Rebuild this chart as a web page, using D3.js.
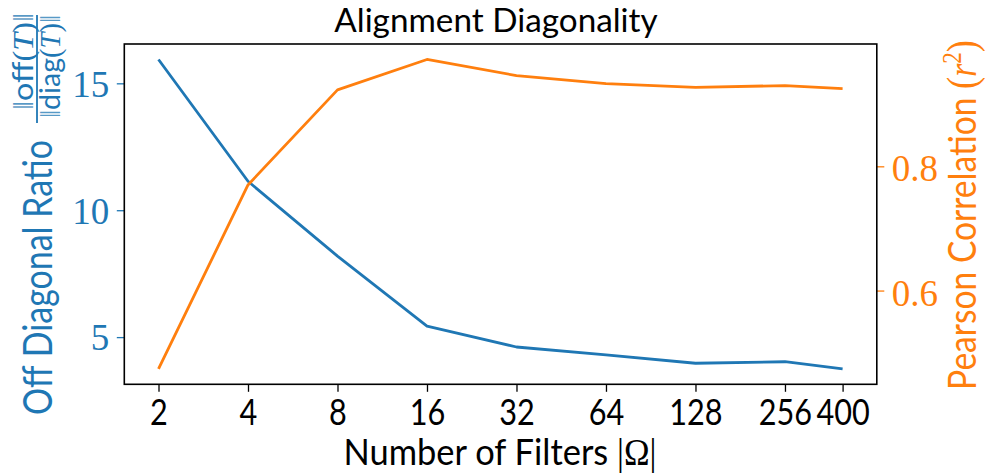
<!DOCTYPE html>
<html>
<head>
<meta charset="utf-8">
<script src="https://cdn.jsdelivr.net/npm/d3@7"></script>
<style>
  html, body { margin: 0; padding: 0; background: #fff; }
  svg { display: block; }
</style>
</head>
<body>
<svg id="chart" width="985" height="476"></svg>
<script>
// ---- data ----
const filters = [2, 4, 8, 16, 32, 64, 128, 256, 400];
const offDiagonalRatio = [15.94, 11.14, 8.19, 5.43, 4.61, 4.30, 3.97, 4.03, 3.75];
const pearsonR2 = [0.474, 0.770, 0.923, 0.972, 0.946, 0.933, 0.927, 0.930, 0.925];
const xTickValues = [2, 4, 8, 16, 32, 64, 128, 256, 400];
const leftTickValues = [5, 10, 15];
const rightTickValues = [0.6, 0.8];

const BLUE = "#1f77b4", ORANGE = "#ff7f0e";
const SANS = "Lato, 'Open Sans', sans-serif";
const SERIF = "'Liberation Serif', 'DejaVu Serif', serif";

const svg = d3.select("#chart");
const plot = { left: 124.3, right: 876.8, top: 44, bottom: 384.3 };

function pad(lo, hi, f) { const r = hi - lo; return [lo - f * r, hi + f * r]; }

// x: log2 scale with 5% margin in log space
const lx = pad(Math.log2(d3.min(filters)), Math.log2(d3.max(filters)), 0.05);
const x = d3.scaleLog().base(2).domain([2 ** lx[0], 2 ** lx[1]]).range([plot.left, plot.right]);
const yL = d3.scaleLinear().domain(pad(d3.min(offDiagonalRatio), d3.max(offDiagonalRatio), 0.05)).range([plot.bottom, plot.top]);
const yR = d3.scaleLinear().domain(pad(d3.min(pearsonR2), d3.max(pearsonR2), 0.05)).range([plot.bottom, plot.top]);

// ---- lines ----
const lineL = d3.line().x((d, i) => x(filters[i])).y(d => yL(d));
const lineR = d3.line().x((d, i) => x(filters[i])).y(d => yR(d));

svg.append("path").datum(offDiagonalRatio).attr("d", lineL)
  .attr("fill", "none").attr("stroke", BLUE).attr("stroke-width", 2.8)
  .attr("stroke-linejoin", "round").attr("stroke-linecap", "butt");
svg.append("path").datum(pearsonR2).attr("d", lineR)
  .attr("fill", "none").attr("stroke", ORANGE).attr("stroke-width", 2.8)
  .attr("stroke-linejoin", "round").attr("stroke-linecap", "butt");

// ---- axes ----
const TICK = 7.5;
const gx = svg.append("g").attr("transform", `translate(0,${plot.bottom})`)
  .call(d3.axisBottom(x).tickValues(xTickValues).tickFormat(d3.format("d")).tickSize(TICK).tickSizeOuter(0).tickPadding(0));
gx.select(".domain").remove();
gx.selectAll(".tick line").attr("stroke", "#000").attr("stroke-width", 1.3);
gx.selectAll(".tick text")
  .attr("font-family", SANS).attr("font-size", 36.5).attr("fill", "#000")
  .attr("dy", null).attr("y", 0)
  .attr("transform", `translate(0,${425 - plot.bottom}) scale(0.84,1)`);

const gl = svg.append("g").attr("transform", `translate(${plot.left},0)`)
  .call(d3.axisLeft(yL).tickValues(leftTickValues).tickFormat(d3.format("d")).tickSize(TICK).tickSizeOuter(0).tickPadding(7.5));
gl.select(".domain").remove();
gl.selectAll(".tick line").attr("stroke", BLUE).attr("stroke-width", 1.3);
gl.selectAll(".tick text")
  .attr("font-family", SERIF).attr("font-size", 37).attr("fill", BLUE)
  .attr("dy", null).attr("y", 12.8);

const gr = svg.append("g").attr("transform", `translate(${plot.right},0)`)
  .call(d3.axisRight(yR).tickValues(rightTickValues).tickFormat(d3.format(".1f")).tickSize(TICK).tickSizeOuter(0).tickPadding(7.5));
gr.select(".domain").remove();
gr.selectAll(".tick line").attr("stroke", ORANGE).attr("stroke-width", 1.3);
gr.selectAll(".tick text")
  .attr("font-family", SERIF).attr("font-size", 37).attr("fill", ORANGE)
  .attr("dy", null).attr("y", 14.5);

// frame
svg.append("rect")
  .attr("x", plot.left).attr("y", plot.top)
  .attr("width", plot.right - plot.left).attr("height", plot.bottom - plot.top)
  .attr("fill", "none").attr("stroke", "#000").attr("stroke-width", 1.6);

// ---- text helpers ----
function fitted(g, build, target) {
  const t = g.append("text").attr("text-anchor", "middle");
  build(t);
  const w = t.node().getBBox().width;
  t.attr("transform", `scale(${target / w},1)`);
  return t;
}

// title
fitted(svg.append("g").attr("transform", "translate(496,31.8)"), t => {
  t.attr("font-family", SANS).attr("font-size", 32).attr("fill", "#000").text("Alignment Diagonality");
}, 324);

// x label
fitted(svg.append("g").attr("transform", "translate(500,465)"), t => {
  t.attr("font-family", SANS).attr("font-size", 37).attr("fill", "#000");
  t.append("tspan").text("Number of Filters ");
  t.append("tspan").attr("font-family", SERIF).text("|Ω|");
}, 313);

// left y label
fitted(svg.append("g").attr("transform", "translate(51.5,277.5) rotate(-90)"), t => {
  t.attr("font-family", SANS).attr("font-size", 41).attr("fill", BLUE).text("Off Diagonal Ratio");
}, 275);

// fraction numerator/denominator
fitted(svg.append("g").attr("transform", "translate(33,61.5) rotate(-90)"), t => {
  t.attr("font-size", 29).attr("fill", BLUE);
  t.append("tspan").attr("font-family", SERIF).attr("fill-opacity", 0.75).text("‖");
  t.append("tspan").attr("font-family", SANS).text("off");
  t.append("tspan").attr("font-family", SERIF).text("(");
  t.append("tspan").attr("font-family", SERIF).attr("font-style", "italic").text("T");
  t.append("tspan").attr("font-family", SERIF).text(")");
  t.append("tspan").attr("font-family", SERIF).attr("fill-opacity", 0.75).text("‖");
}, 97);
svg.append("line").attr("x1", 37).attr("x2", 37).attr("y1", 15).attr("y2", 123)
  .attr("stroke", BLUE).attr("stroke-width", 1.8);
fitted(svg.append("g").attr("transform", "translate(60,66.5) rotate(-90)"), t => {
  t.attr("font-size", 29).attr("fill", BLUE);
  t.append("tspan").attr("font-family", SERIF).attr("fill-opacity", 0.75).text("‖");
  t.append("tspan").attr("font-family", SANS).text("diag");
  t.append("tspan").attr("font-family", SERIF).text("(");
  t.append("tspan").attr("font-family", SERIF).attr("font-style", "italic").text("T");
  t.append("tspan").attr("font-family", SERIF).text(")");
  t.append("tspan").attr("font-family", SERIF).attr("fill-opacity", 0.75).text("‖");
}, 103);

// right y label
fitted(svg.append("g").attr("transform", "translate(976,215) rotate(-90)"), t => {
  t.attr("font-family", SANS).attr("font-size", 39).attr("fill", ORANGE);
  t.append("tspan").text("Pearson Correlation ");
  t.append("tspan").attr("font-family", SERIF).attr("font-size", 42).text("(");
  t.append("tspan").attr("font-family", SERIF).attr("font-style", "italic").text("r");
  t.append("tspan").attr("font-family", SERIF).attr("font-size", 27).attr("dy", -15).text("2");
  t.append("tspan").attr("font-family", SERIF).attr("font-size", 42).attr("dy", 15).text(")");
}, 350);
</script>
</body>
</html>
